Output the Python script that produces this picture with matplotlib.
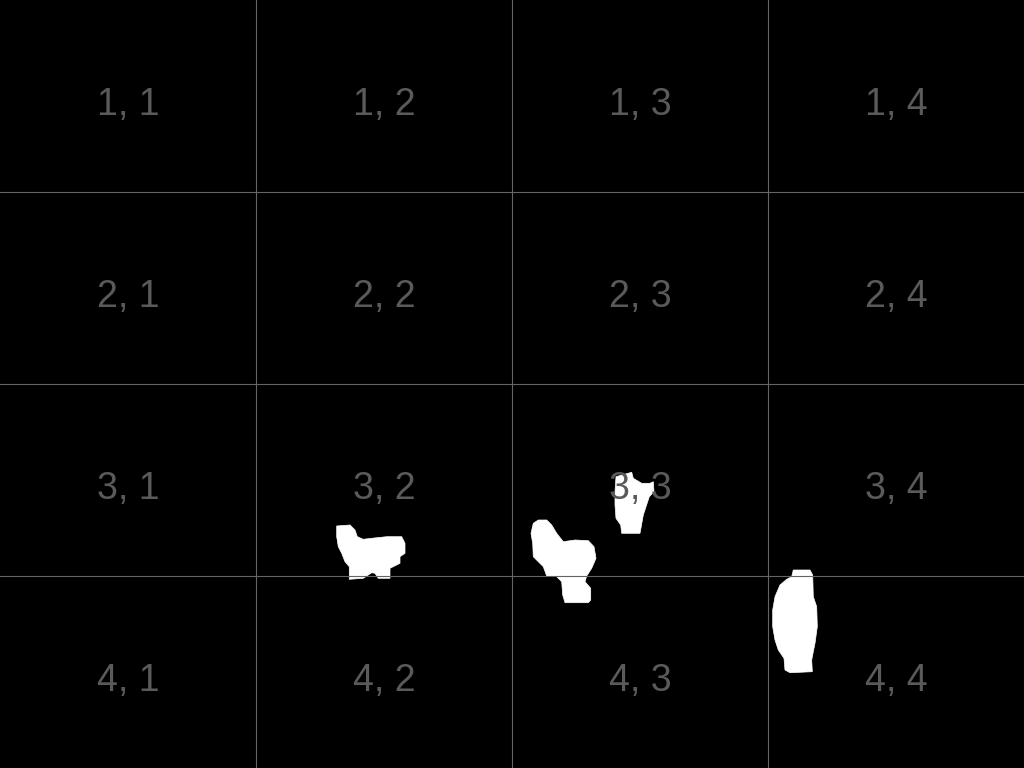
import numpy as np
import matplotlib
matplotlib.use("Agg")
import matplotlib.pyplot as plt
from matplotlib.patches import Polygon

# grid of tiles, in image pixel units
img_w, img_h = 1024, 768
n_rows, n_cols = 4, 4

# mask outlines (x, y) in pixels
blob_a = [(336.7, 526), (350, 525), (355, 530), (357.3, 536.7), (363.3, 539.3),
          (371.7, 538.3), (386.7, 536.7), (401.7, 536.7), (405, 543.3), (405, 553.3),
          (400, 556.7), (400, 563.3), (390, 568.3), (390, 578.3), (378.3, 578.3),
          (375, 573.3), (371.7, 572.7), (363.3, 578.3), (349.3, 579.3), (349.3, 566.7),
          (345, 561.7), (341.7, 553.3), (338.3, 546.7), (336.7, 536.7)]
blob_b = [(533.3, 523.3), (538.3, 520), (546.7, 520), (551.7, 525), (556.7, 533.3),
          (563.3, 541.7), (575, 540), (588.3, 540.7), (594, 546.7), (596, 558.3),
          (591.7, 568.3), (586.7, 576), (585, 581.7), (590.7, 588.3), (590.7, 600),
          (588.3, 602.7), (565, 602.7), (562.7, 595), (561.7, 581.7), (556.7, 576.7),
          (546.7, 576), (543.3, 566.7), (538.3, 561.7), (533.3, 556.7), (532.7, 543.3),
          (531, 533.3)]
blob_c = [(616, 476.7), (631.7, 472.3), (633.3, 478.3), (641.7, 483.3), (650, 483.3),
          (653.3, 481.7), (654, 491.7), (649.3, 496.7), (643.3, 515), (640, 533.3),
          (621.7, 533.3), (620.7, 525), (616, 518.3), (615, 505), (615, 491.7)]
blob_d = [(793.3, 570), (810, 570), (812.7, 575), (813.3, 596.7), (816.7, 606.7),
          (817.3, 626.7), (815, 643.3), (813.3, 651.7), (811.7, 660), (812.3, 671.7),
          (790, 672.7), (785, 670), (784, 658.3), (778.3, 650), (775, 640),
          (772.7, 626.7), (772.7, 610), (775, 596.7), (780, 585), (786.7, 579.3),
          (791.7, 576.7)]
blobs = [blob_a, blob_b, blob_c, blob_d]

fig = plt.figure(figsize=(10.24, 7.68), dpi=100, facecolor='black')
ax = fig.add_axes([0, 0, 1, 1])
ax.set_facecolor('black')
ax.set_xlim(0, img_w)
ax.set_ylim(img_h, 0)
ax.axis('off')

for b in blobs:
  ax.add_patch(Polygon(b, closed=True, facecolor='white', edgecolor='white', lw=0.5, zorder=1))

cw = img_w / n_cols
ch = img_h / n_rows
for i in range(1, n_cols):
  ax.axvline(i * cw, color='#646464', lw=0.8, zorder=2)
for j in range(1, n_rows):
  ax.axhline(j * ch, color='#646464', lw=0.8, zorder=2)

for r in range(n_rows):
  for c in range(n_cols):
    ax.text((c + 0.5) * cw, r * ch + 115, "%d, %d" % (r + 1, c + 1),
            color='#5a5a5a', fontsize=27, family='Liberation Sans',
            ha='center', va='baseline', zorder=3)

fig.savefig('out.png', dpi=100, facecolor='black')
